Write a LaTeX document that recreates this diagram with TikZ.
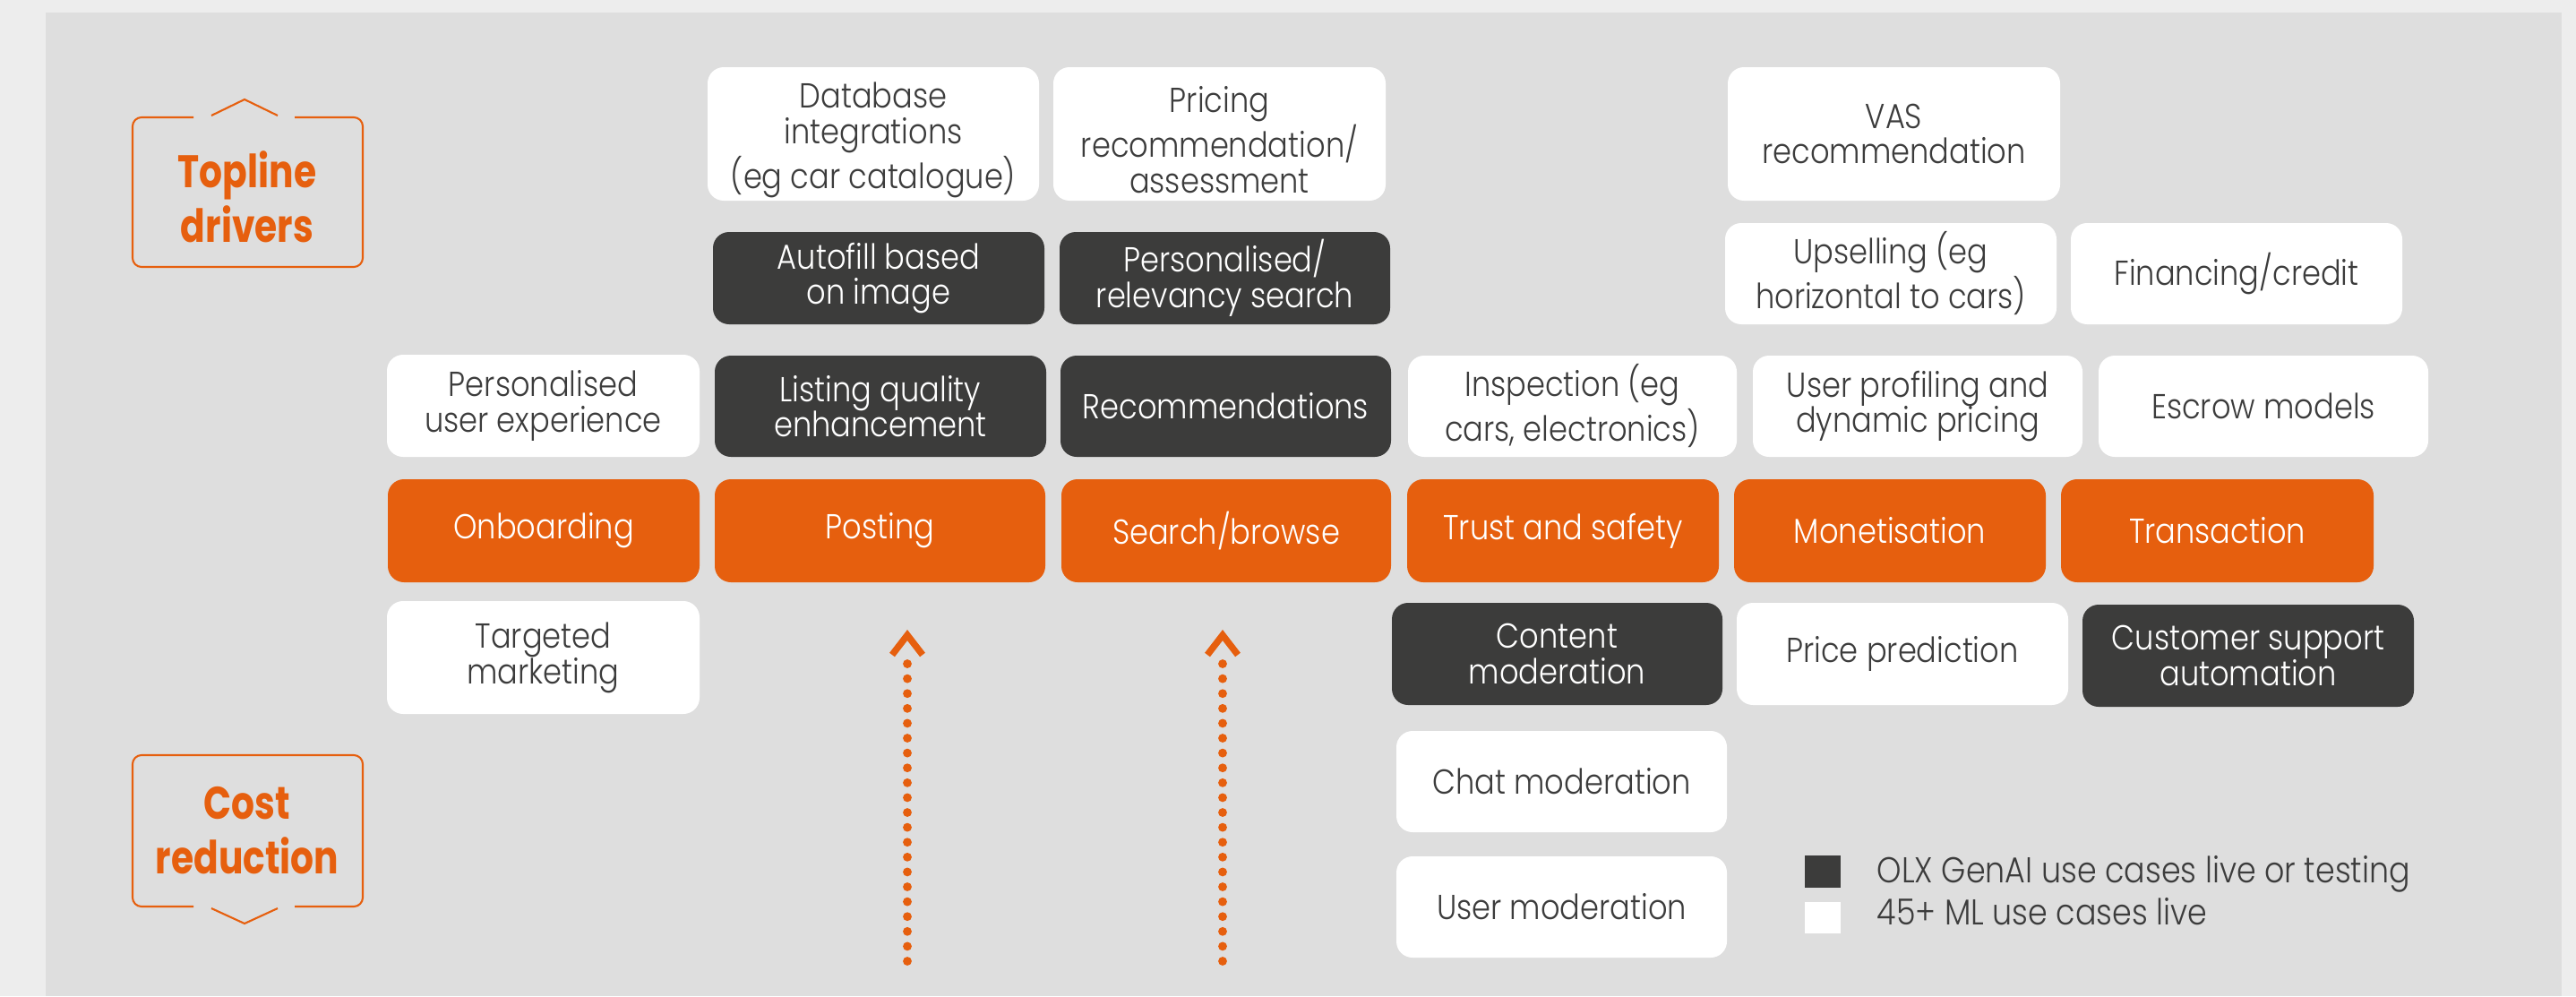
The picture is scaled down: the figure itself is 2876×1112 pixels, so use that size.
\documentclass[tikz,border=0pt]{standalone}
\usepackage{fontspec}
\setmainfont{Poppins}[UprightFont={* Light}, BoldFont={* SemiBold}, FakeStretch=0.87]
\newfontfamily\tagfont{Poppins}[UprightFont={* Bold}, FakeStretch=0.8]
\definecolor{olxorange}{HTML}{E65F0E}
\definecolor{olxdark}{HTML}{3C3C3B}
\definecolor{panelgray}{HTML}{DEDEDE}
\definecolor{outergray}{HTML}{EDEDED}
\definecolor{inkgray}{HTML}{3C3C3C}
% extra head room on the first line of three-line labels
\newcommand{\firstlinestrut}{\rule{0pt}{12pt}}
\begin{document}
\begin{tikzpicture}[x=0.01cm, y=-0.01cm,
  usecase/.style={rounded corners=0.18cm, inner sep=0pt, align=center,
    font=\fontsize{11}{11.3}\selectfont},
  wbox/.style={usecase, fill=white, text=inkgray},
  dbox/.style={usecase, fill=olxdark, text=white},
  obox/.style={usecase, fill=olxorange, text=white},
  sz/.style 2 args={minimum width=#1*0.01cm, minimum height=#2*0.01cm},
  tag/.style={draw=olxorange, line width=0.6pt, rounded corners=0.1cm},
  tagtext/.style={text=olxorange, align=center,
    font=\fontsize{14.5}{17.5}\tagfont},
  dotline/.style={olxorange, line width=2.8pt, line cap=round,
    dash pattern=on 0pt off 4.72pt},
  chevron/.style={olxorange, line width=2.1pt},
  legtext/.style={anchor=base west, text=inkgray, inner sep=0pt,
    font=\fontsize{11.4}{12}\selectfont}
]
% canvas
\fill[outergray] (0,0) rectangle (2876,1112);
\fill[panelgray] (51,14) rectangle (2860,1112);
\useasboundingbox (0,0) rectangle (2876,1112);

% side tags
\draw[tag] (216,131) -- (148,131) -- (148,298) -- (405,298) -- (405,131) -- (329,131);
\draw[olxorange, line width=0.6pt] (236,129) -- (273,111) -- (310,129);
\node[tagtext] (topline) at (276,220) {Topline\\drivers};

\draw[tag] (216,1012) -- (148,1012) -- (148,843) -- (405,843) -- (405,1012) -- (329,1012);
\draw[olxorange, line width=0.6pt] (236,1014) -- (273,1031) -- (310,1014);
\node[tagtext] (costred) at (276,927) {Cost\\reduction};

% top row
\node[wbox, sz={370}{149}] (db) at (975,149.5) {\firstlinestrut Database\\integrations\\(eg car catalogue)};
\node[wbox, sz={371}{149}] (pricing) at (1361.5,149.5) {\firstlinestrut Pricing\\recommendation/\\assessment};
\node[wbox, sz={371}{149}] (vas) at (2114.5,149.5) {VAS\\recommendation};

% second row
\node[dbox, sz={370}{103}] (autofill) at (981,310.5) {Autofill based\\on image};
\node[dbox, sz={369}{103}] (perssearch) at (1367.5,310.5) {Personalised/\\relevancy search};
\node[wbox, sz={370}{113}] (upsell) at (2111,305.5) {Upselling (eg\\horizontal to cars)};
\node[wbox, sz={370}{113}] (financing) at (2497,305.5) {Financing/credit};

% third row
\node[wbox, sz={349}{114}] (persux) at (606.5,453) {Personalised\\user experience};
\node[dbox, sz={370}{113}] (listing) at (983,453.5) {Listing quality\\enhancement};
\node[dbox, sz={369}{113}] (recs) at (1368.5,453.5) {Recommendations};
\node[wbox, sz={367}{113}] (inspection) at (1755.5,453.5) {Inspection (eg\\cars, electronics)};
\node[wbox, sz={368}{113}] (profiling) at (2141,453.5) {User profiling and\\dynamic pricing};
\node[wbox, sz={368}{113}] (escrow) at (2527,453.5) {Escrow models};

% journey stages
\node[obox, sz={348}{115}] (onboarding) at (607,592.5) {Onboarding};
\node[obox, sz={369}{115}] (posting) at (982.5,592.5) {Posting};
\node[obox, sz={368}{115}] (search) at (1369,592.5) {Search/browse};
\node[obox, sz={348}{115}] (trust) at (1745,592.5) {Trust and safety};
\node[obox, sz={348}{115}] (monetisation) at (2110,592.5) {Monetisation};
\node[obox, sz={349}{115}] (transaction) at (2475.5,592.5) {Transaction};

% cost side
\node[wbox, sz={349}{126}] (targeted) at (606.5,734) {Targeted\\marketing};
\node[dbox, sz={369}{114}] (content) at (1738.5,730) {Content\\moderation};
\node[wbox, sz={370}{114}] (price) at (2124,730) {Price prediction};
\node[dbox, sz={370}{114}] (custsupport) at (2510,732) {Customer support\\automation};
\node[wbox, sz={369}{113}] (chat) at (1743.5,872.5) {Chat moderation};
\node[wbox, sz={369}{113}] (usermod) at (1743.5,1012.5) {User moderation};

% dotted arrows
\coordinate (postfoot) at (1013,1073);
\coordinate (posthead) at (1013,709);
\coordinate (searchfoot) at (1365,1073);
\coordinate (searchhead) at (1365,709);
\draw[dotline] (postfoot) -- (1013,740);
\draw[dotline] (searchfoot) -- (1365,740);
\draw[chevron] (posthead) ++(-17,22) -- (posthead) -- ++(17,22);
\draw[chevron] (searchhead) ++(-17,22) -- (searchhead) -- ++(17,22);

% legend
\node[fill=olxdark, inner sep=0pt, minimum width=0.40cm, minimum height=0.36cm] (legdark) at (2035,973) {};
\node[fill=white, inner sep=0pt, minimum width=0.40cm, minimum height=0.35cm] (legwhite) at (2035,1024.5) {};
\node[legtext] (legdarktext) at (2095,985) {OLX GenAI use cases live or testing};
\node[legtext] (legwhitetext) at (2095,1032) {45+ ML use cases live};
\end{tikzpicture}
\end{document}
